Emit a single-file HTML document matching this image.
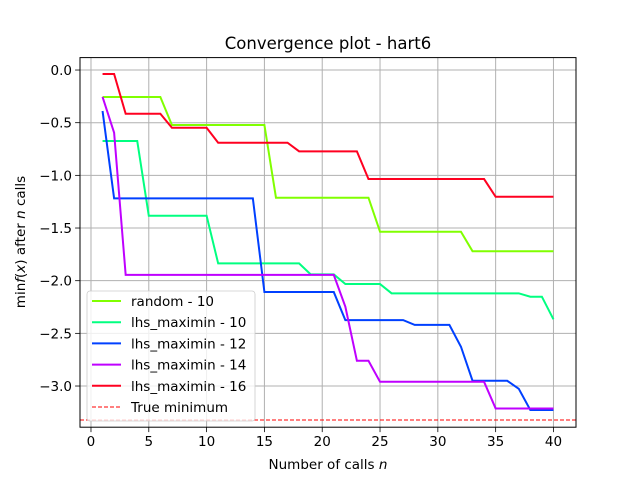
<!DOCTYPE html>
<html><head><meta charset="utf-8"><style>
body{margin:0;background:#fff;}
svg text{font-family:"DejaVu Sans","Liberation Sans",sans-serif;fill:#000;}
</style></head><body>
<svg id="chart" width="640" height="480" xmlns="http://www.w3.org/2000/svg">
<rect width="640" height="480" fill="#fff"/>
<g id="grid"></g>
<g id="series"></g>
<g id="axes"></g>
<text x="328" y="49" text-anchor="middle" font-size="16.5">Convergence plot - hart6</text>
<text x="328" y="469" text-anchor="middle" font-size="13.5">Number of calls <tspan font-style="italic">n</tspan></text>
<text transform="translate(25,242) rotate(-90)" text-anchor="middle" font-size="13.5">min<tspan font-style="italic">f</tspan>(<tspan font-style="italic">x</tspan>) after <tspan font-style="italic">n</tspan> calls</text>
<g id="legend"></g>
</svg>
<script>
const xTicks=[0,5,10,15,20,25,30,35,40];
const yTicks=[0,-0.5,-1,-1.5,-2,-2.5,-3];
const yTickLabels=["0.0","\u22120.5","\u22121.0","\u22121.5","\u22122.0","\u22122.5","\u22123.0"];
const seriesNames=["random - 10","lhs_maximin - 10","lhs_maximin - 12","lhs_maximin - 14","lhs_maximin - 16"];
const seriesColors=["#80ff00","#00ff80","#0040ff","#bf00ff","#ff0020"];
const randomVals=[-0.256,-0.256,-0.256,-0.256,-0.256,-0.256,-0.522,-0.522,-0.522,-0.522,-0.522,-0.522,-0.522,-0.522,-0.522,-1.212,-1.212,-1.212,-1.212,-1.212,-1.212,-1.212,-1.212,-1.212,-1.535,-1.535,-1.535,-1.535,-1.535,-1.535,-1.535,-1.535,-1.72,-1.72,-1.72,-1.72,-1.72,-1.72,-1.72,-1.72];
const lhs10Vals=[-0.674,-0.674,-0.674,-0.674,-1.383,-1.383,-1.383,-1.383,-1.383,-1.383,-1.836,-1.836,-1.836,-1.836,-1.836,-1.836,-1.836,-1.836,-1.94,-1.94,-1.94,-2.032,-2.032,-2.032,-2.032,-2.12,-2.12,-2.12,-2.12,-2.12,-2.12,-2.12,-2.12,-2.12,-2.12,-2.12,-2.12,-2.152,-2.152,-2.367];
const lhs12Vals=[-0.389,-1.218,-1.218,-1.218,-1.218,-1.218,-1.218,-1.218,-1.218,-1.218,-1.218,-1.218,-1.218,-1.218,-2.108,-2.108,-2.108,-2.108,-2.108,-2.108,-2.108,-2.374,-2.374,-2.374,-2.374,-2.374,-2.374,-2.42,-2.42,-2.42,-2.42,-2.627,-2.95,-2.95,-2.95,-2.95,-3.026,-3.228,-3.228,-3.228];
const lhs14Vals=[-0.256,-0.595,-1.945,-1.945,-1.945,-1.945,-1.945,-1.945,-1.945,-1.945,-1.945,-1.945,-1.945,-1.945,-1.945,-1.945,-1.945,-1.945,-1.945,-1.945,-1.945,-2.247,-2.76,-2.76,-2.96,-2.96,-2.96,-2.96,-2.96,-2.96,-2.96,-2.96,-2.96,-2.96,-3.213,-3.213,-3.213,-3.213,-3.213,-3.213];
const lhs16Vals=[-0.038,-0.038,-0.415,-0.415,-0.415,-0.415,-0.548,-0.548,-0.548,-0.548,-0.69,-0.69,-0.69,-0.69,-0.69,-0.69,-0.69,-0.772,-0.772,-0.772,-0.772,-0.772,-0.772,-1.035,-1.035,-1.035,-1.035,-1.035,-1.035,-1.035,-1.035,-1.035,-1.035,-1.035,-1.203,-1.203,-1.203,-1.203,-1.203,-1.203];
const trueMinimum=-3.32237;

const NS="http://www.w3.org/2000/svg";
const L=80,R=576,T=57.6,B=427.2;
const xMin=-0.95,xMax=41.95,yMax=0.118,yMin=-3.391;
const X=v=>L+(v-xMin)/(xMax-xMin)*(R-L);
const Y=v=>T+(yMax-v)/(yMax-yMin)*(B-T);
function mk(tag,attrs,parent){const e=document.createElementNS(NS,tag);for(const k in attrs)e.setAttribute(k,attrs[k]);parent.appendChild(e);return e;}
const grid=document.getElementById('grid'),axes=document.getElementById('axes'),ser=document.getElementById('series'),leg=document.getElementById('legend');
xTicks.forEach(t=>{
 const g=mk('line',{x1:X(t),x2:X(t),y1:T,y2:B,stroke:'#b0b0b0','stroke-width':1},grid);
 
 
 const tk=mk('line',{x1:X(t),x2:X(t),y1:B,y2:B+4.9,stroke:'#000','stroke-width':0.8},axes);
 
 
 const tx=mk('text',{x:X(t),y:B+19,'text-anchor':'middle','font-size':13.5},axes);
 tx.textContent=t;
 
 
});
yTicks.forEach((t,i)=>{
 const g=mk('line',{x1:L,x2:R,y1:Y(t),y2:Y(t),stroke:'#b0b0b0','stroke-width':1},grid);
 
 
 const tk=mk('line',{x1:L-4.9,x2:L,y1:Y(t),y2:Y(t),stroke:'#000','stroke-width':0.8},axes);
 
 
 const tx=mk('text',{x:L-8,y:Y(t)+5,'text-anchor':'end','font-size':13.5},axes);
 tx.textContent=yTickLabels[i];
 
 
});
const allVals=[randomVals,lhs10Vals,lhs12Vals,lhs14Vals,lhs16Vals];
allVals.forEach((vals,s)=>{
 const pts=vals.map((v,i)=>X(i+1).toFixed(2)+','+Y(v).toFixed(2)).join(' ');
 const p=mk('polyline',{points:pts,fill:'none',stroke:seriesColors[s],'stroke-width':2},ser);
 
 
});
const tm=mk('line',{x1:L,x2:R,y1:Y(trueMinimum),y2:Y(trueMinimum),stroke:'#ff0000','stroke-width':1,'stroke-dasharray':'4,2'},ser);


const fr=mk('rect',{x:L,y:T,width:R-L,height:B-T,fill:'none',stroke:'#000','stroke-width':1},axes);


const lb=mk('rect',{x:87,y:291,width:168,height:130,rx:3,fill:'#fff','fill-opacity':0.8,stroke:'#ccc','stroke-width':0.8},leg);


const legNames=seriesNames.concat(["True minimum"]);
const legColors=seriesColors.concat(["#ff0000"]);
legNames.forEach((n,i)=>{
 const y=301+i*21.2;
 const ln=mk('line',{x1:92,x2:121,y1:y,y2:y,stroke:legColors[i],'stroke-width':i<5?2:1,'stroke-dasharray':i<5?'none':'4,2'},leg);
 
 
 const tx=mk('text',{x:131,y:y+5,'font-size':13.5},leg);
 tx.textContent=n;
 
 
});
</script>
</body></html>
